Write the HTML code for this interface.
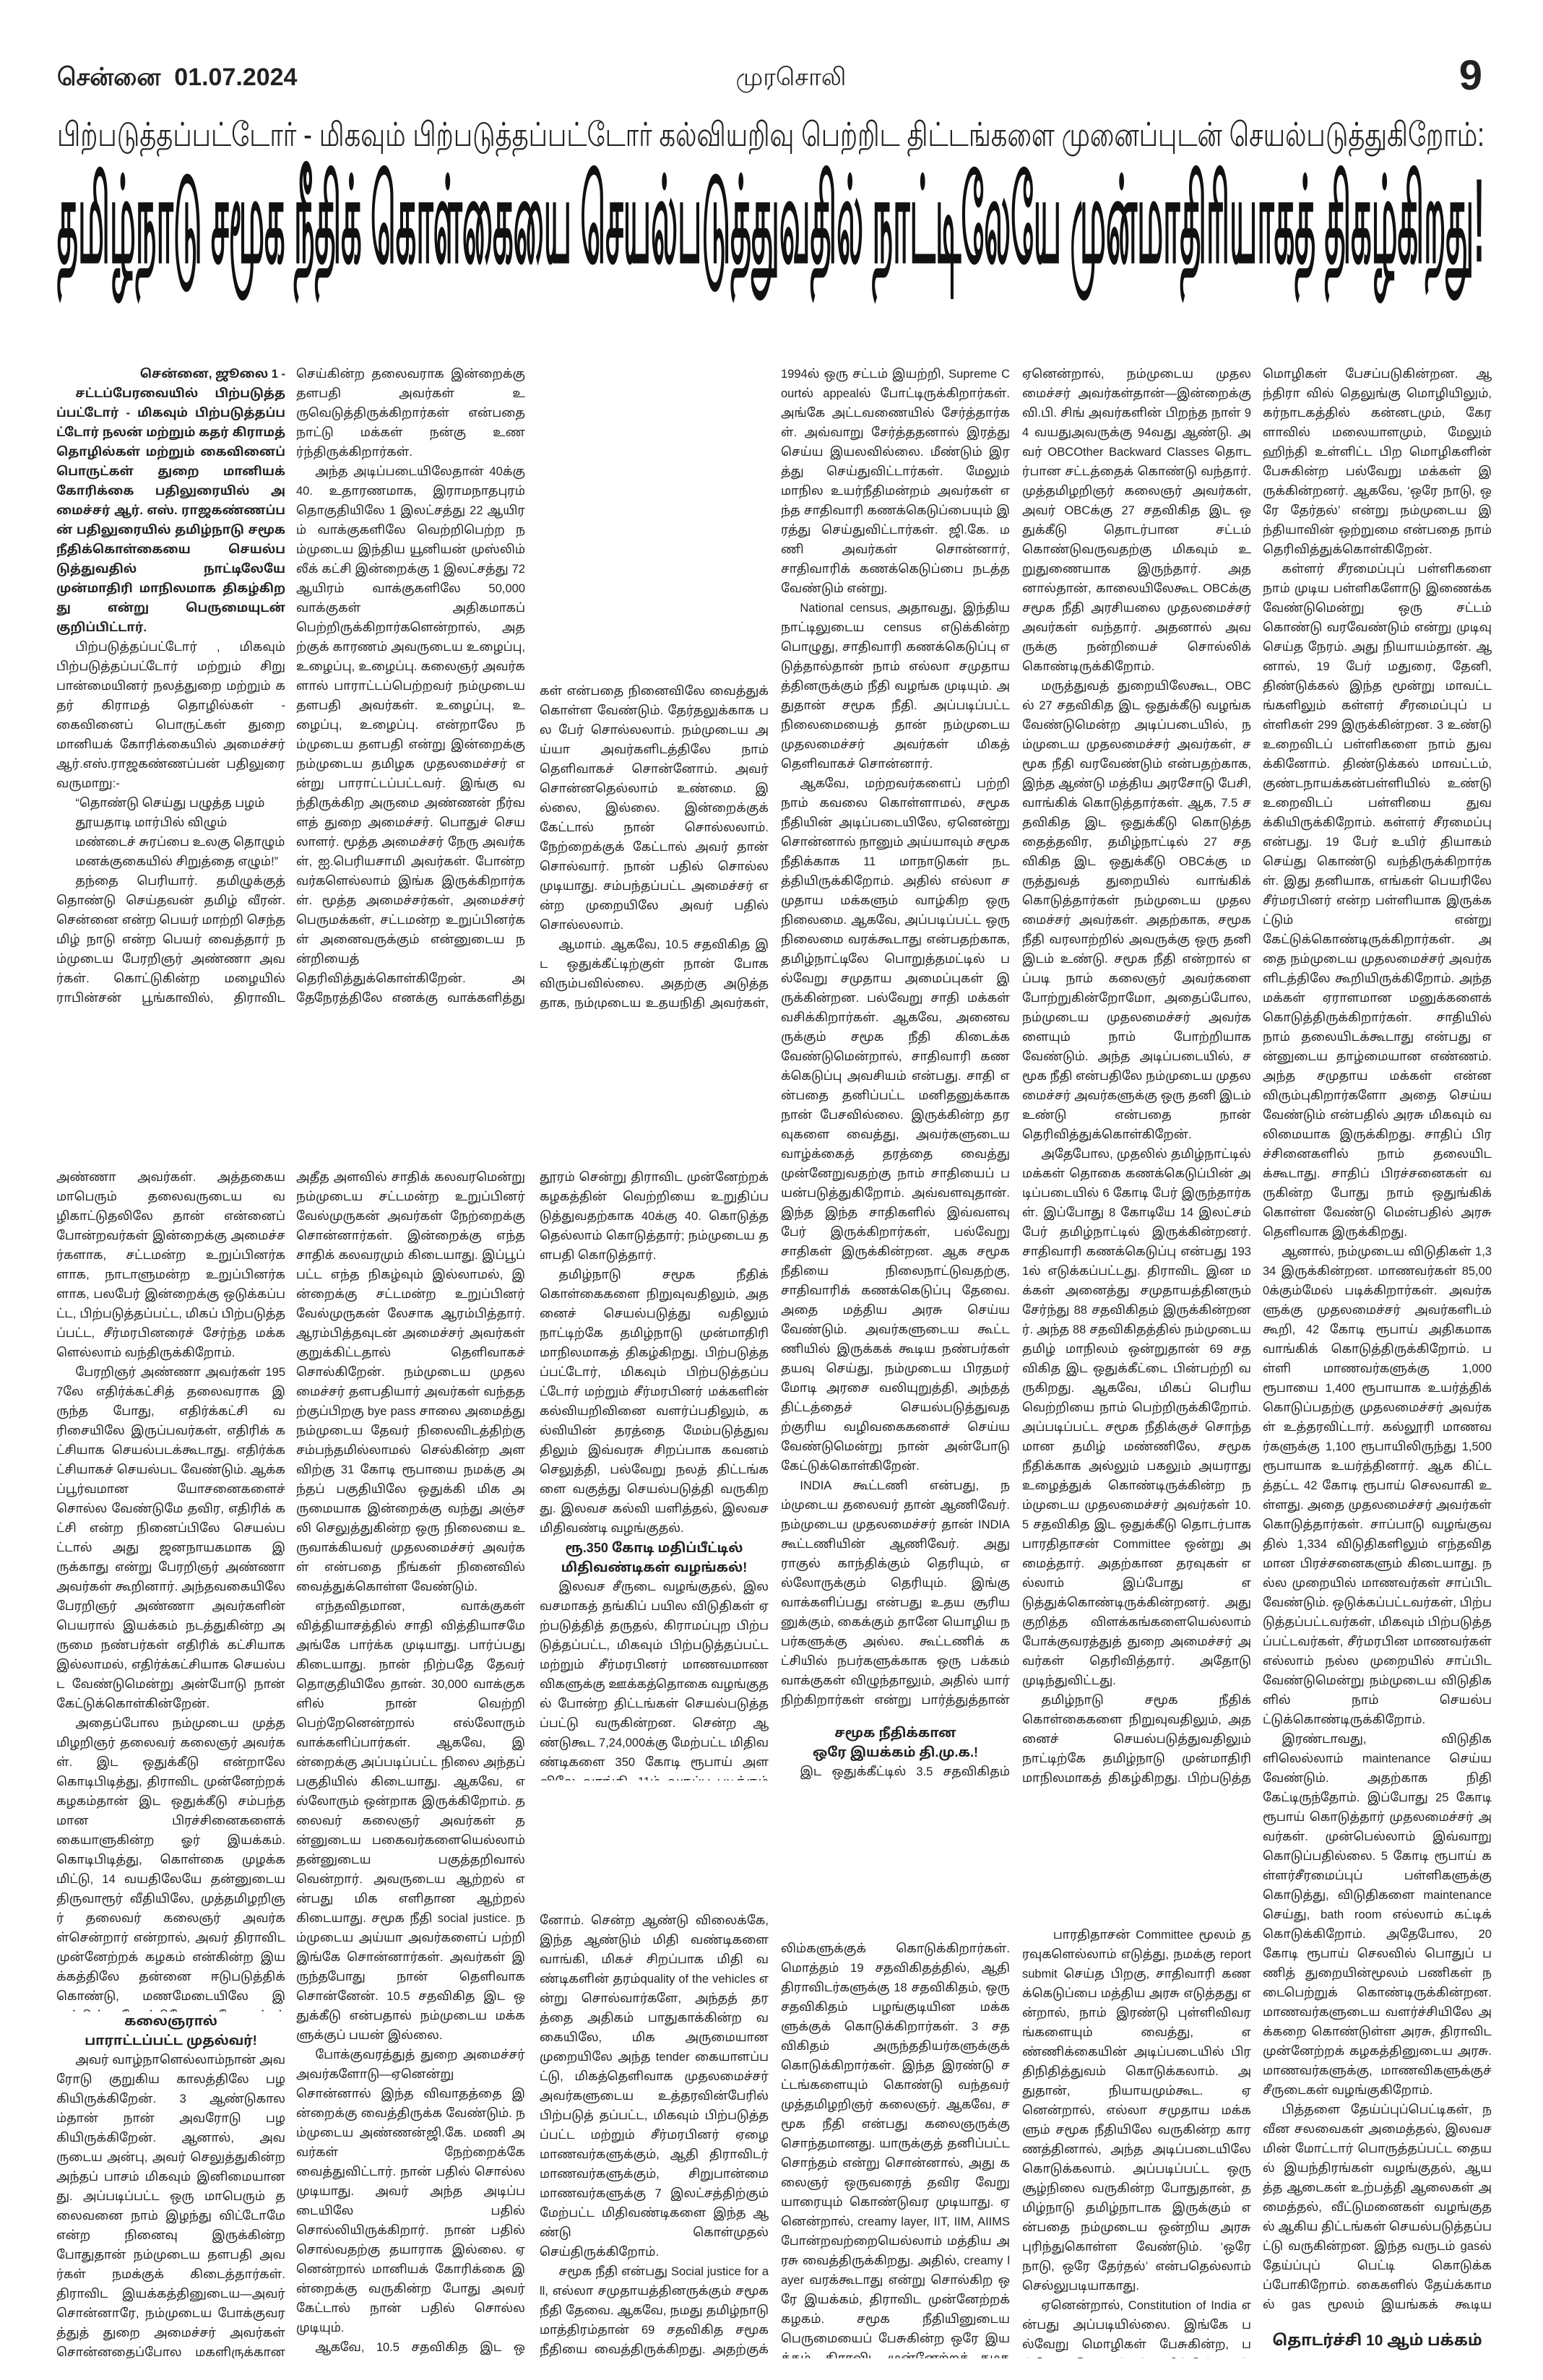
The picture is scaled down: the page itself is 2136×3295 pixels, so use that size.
<!DOCTYPE html>
<html lang="ta">
<head>
<meta charset="utf-8">
<style>
html,body{margin:0;padding:0;background:#fff;}
body{width:2136px;height:3295px;position:relative;overflow:hidden;font-family:"Liberation Sans","Noto Sans Tamil","Lohit Tamil","Noto Sans CJK JP",sans-serif;color:#222;}
.b{position:absolute;width:317px;font-size:16.5px;line-height:27px;text-align:justify;overflow:hidden;word-break:break-all;}
.b p{margin:0;text-indent:1.6em;}
.b p.ni{text-indent:0;}
.lede{font-weight:bold;}
.poem{padding-left:1.6em;text-indent:0 !important;text-align:left;word-break:normal;}
.sh{font-weight:bold;text-align:center;text-indent:0 !important;font-size:18px;word-break:normal;}
.c1{left:78px}.c2{left:410px}.c3{left:747px}.c4{left:1081px}.c5{left:1415px}.c6{left:1748px}
</style>
</head>
<body>
<svg style="position:absolute;left:0;top:0" width="2136" height="440" xmlns="http://www.w3.org/2000/svg">
<text x="79" y="118" font-size="34" font-weight="bold" fill="#222" font-family="Liberation Sans, sans-serif">சென்னை&#160;&#160;01.07.2024</text>
<text x="1095" y="118" font-size="34" text-anchor="middle" fill="#222" font-family="Liberation Sans, sans-serif">முரசொலி</text>
<text x="2052" y="124" font-size="58" font-weight="bold" text-anchor="end" fill="#222" font-family="Liberation Sans, sans-serif">9</text>
<text x="79" y="202" font-size="46" textLength="1976" lengthAdjust="spacingAndGlyphs" fill="#222" font-family="Liberation Sans, sans-serif">பிற்படுத்தப்பட்டோர் - மிகவும் பிற்படுத்தப்பட்டோர் கல்வியறிவு பெற்றிட திட்டங்களை முனைப்புடன் செயல்படுத்துகிறோம்:</text>
<text x="79" y="362" font-size="165" font-weight="bold" textLength="1976" lengthAdjust="spacingAndGlyphs" fill="#111" font-family="Liberation Sans, sans-serif">தமிழ்நாடு சமூக நீதிக் கொள்கையை செயல்படுத்துவதில் நாட்டிலேயே முன்மாதிரியாகத் திகழ்கிறது!</text>
</svg>

<!-- Column 1 top -->
<div class="b c1" style="top:505px;height:892px">
<p class="lede" style="text-align:right;text-indent:0">சென்னை, ஜூலை 1 -</p>
<p class="lede">சட்டப்பேரவையில் பிற்படுத்தப்பட்டோர் - மிகவும் பிற்படுத்தப்பட்டோர் நலன் மற்றும் கதர் கிராமத் தொழில்கள் மற்றும் கைவினைப் பொருட்கள் துறை மானியக் கோரிக்கை பதிலுரையில் அமைச்சர் ஆர். எஸ். ராஜகண்ணப்பன் பதிலுரையில் தமிழ்நாடு சமூக நீதிக்கொள்கையை செயல்படுத்துவதில் நாட்டிலேயே முன்மாதிரி மாநிலமாக திகழ்கிறது என்று பெருமையுடன் குறிப்பிட்டார்.</p>
<p>பிற்படுத்தப்பட்டோர் , மிகவும் பிற்படுத்தப்பட்டோர் மற்றும் சிறு பான்மையினர் நலத்துறை மற்றும் கதர் கிராமத் தொழில்கள் - கைவினைப் பொருட்கள் துறை மானியக் கோரிக்கையில் அமைச்சர் ஆர்.எஸ்.ராஜகண்ணப்பன் பதிலுரை வருமாறு:-</p>
<p class="poem">“தொண்டு செய்து பழுத்த பழம்<br>தூயதாடி மார்பில் விழும்<br>மண்டைச் சுரப்பை உலகு தொழும்<br>மனக்குகையில் சிறுத்தை எழும்!”</p>
<p>தந்தை பெரியார். தமிழுக்குத் தொண்டு செய்தவன் தமிழ் வீரன். சென்னை என்ற பெயர் மாற்றி செந்தமிழ் நாடு என்ற பெயர் வைத்தார் நம்முடைய பேரறிஞர் அண்ணா அவர்கள். கொட்டுகின்ற மழையில் ராபின்சன் பூங்காவில், திராவிட முன்னேற்றக் கழகம் என்னும் இயக்கத்தைத் தொடங்கிய போது, மிட்டாமிராசுகள், பட்டாக்காரர்கள், பெருந்தனக்காரர்கள், ஆலய அதிபர்கள், தொழிலதிபர்கள் இவர்களை எதிர்த்து திராவிட முன்னேற்றக் கழகத்தைத் தொடங்கியவர் பேரறிஞர் அண்ணா அவர்கள். அத்தகைய மாபெரும் தலைவருடைய வழிகாட்டுதலிலே தான் என்னைப் போன்றவர்கள் இன்றைக்கு அமைச்சர்களாக இருக்கிறோம்.</p>
</div>

<!-- Column 2 top -->
<div class="b c2" style="top:505px;height:892px">
<p class="ni">செய்கின்ற தலைவராக இன்றைக்கு தளபதி அவர்கள் உருவெடுத்திருக்கிறார்கள் என்பதை நாட்டு மக்கள் நன்கு உணர்ந்திருக்கிறார்கள்.</p>
<p>அந்த அடிப்படையிலேதான் 40க்கு 40. உதாரணமாக, இராமநாதபுரம் தொகுதியிலே 1 இலட்சத்து 22 ஆயிரம் வாக்குகளிலே வெற்றிபெற்ற நம்முடைய இந்திய யூனியன் முஸ்லிம் லீக் கட்சி இன்றைக்கு 1 இலட்சத்து 72 ஆயிரம் வாக்குகளிலே 50,000 வாக்குகள் அதிகமாகப் பெற்றிருக்கிறார்களென்றால், அதற்குக் காரணம் அவருடைய உழைப்பு, உழைப்பு, உழைப்பு. கலைஞர் அவர்களால் பாராட்டப்பெற்றவர் நம்முடைய தளபதி அவர்கள். உழைப்பு, உழைப்பு, உழைப்பு. என்றாலே நம்முடைய தளபதி என்று இன்றைக்கு நம்முடைய தமிழக முதலமைச்சர் என்று பாராட்டப்பட்டவர். இங்கு வந்திருக்கிற அருமை அண்ணன் நீர்வளத் துறை அமைச்சர். பொதுச் செயலாளர். மூத்த அமைச்சர் நேரு அவர்கள், ஐ.பெரியசாமி அவர்கள். போன்றவர்களெல்லாம் இங்க இருக்கிறார்கள். மூத்த அமைச்சர்கள், அமைச்சர் பெருமக்கள், சட்டமன்ற உறுப்பினர்கள் அனைவருக்கும் என்னுடைய நன்றியைத் தெரிவித்துக்கொள்கிறேன். அதேநேரத்திலே எனக்கு வாக்களித்து பெருவாரியாக வெற்றிபெறச் செய்த முதுகுளத்தூர் தொகுதி மக்களுக்கும் என்னுடைய நன்றியை நான் தெரிவித்துக்கொள்கிறேன்.</p>
<p>நம்முடைய தென் மாவட்டங்களிலே நம்முடைய தளபதி அவர்கள் பல்லாயிரக்கணக்கான மைல் தூரம் சென்று திராவிட முன்னேற்றக் கழகத்தின் வெற்றியை உறுதிப்படுத்துவதற்காக உழைத்தார்.</p>
</div>

<!-- Column 3 top -->
<div class="b c3" style="top:944px;height:453px">
<p class="ni">கள் என்பதை நினைவிலே வைத்துக் கொள்ள வேண்டும். தேர்தலுக்காக பல பேர் சொல்லலாம். நம்முடைய அய்யா அவர்களிடத்திலே நாம் தெளிவாகச் சொன்னோம். அவர் சொன்னதெல்லாம் உண்மை. இல்லை, இல்லை. இன்றைக்குக் கேட்டால் நான் சொல்லலாம். நேற்றைக்குக் கேட்டால் அவர் தான் சொல்வார். நான் பதில் சொல்ல முடியாது. சம்பந்தப்பட்ட அமைச்சர் என்ற முறையிலே அவர் பதில் சொல்லலாம்.</p>
<p>ஆமாம். ஆகவே, 10.5 சதவிகித இட ஒதுக்கீட்டிற்குள் நான் போக விரும்பவில்லை. அதற்கு அடுத்ததாக, நம்முடைய உதயநிதி அவர்கள், இந்தத் தேர்தலிலே மிகச் சிறப்பாக பணியாற்றினார். பல்லாயிரக்கணக்கான மைல் தூரம் சென்று திராவிட முன்னேற்றக் கழகத்தின் வெற்றியை உறுதிப்படுத்தினார்.</p>
</div>

<!-- Column 4 top+mid -->
<div class="b c4" style="top:505px;height:1863px">
<p class="ni">1994ல் ஒரு சட்டம் இயற்றி, Supreme Courtல் appealல் போட்டிருக்கிறார்கள். அங்கே அட்டவணையில் சேர்த்தார்கள். அவ்வாறு சேர்த்ததனால் இரத்து செய்ய இயலவில்லை. மீண்டும் இரத்து செய்துவிட்டார்கள். மேலும் மாநில உயர்நீதிமன்றம் அவர்கள் எந்த சாதிவாரி கணக்கெடுப்பையும் இரத்து செய்துவிட்டார்கள். ஜி.கே. மணி அவர்கள் சொன்னார், சாதிவாரிக் கணக்கெடுப்பை நடத்த வேண்டும் என்று.</p>
<p>National census, அதாவது, இந்திய நாட்டிலுடைய census எடுக்கின்றபொழுது, சாதிவாரி கணக்கெடுப்பு எடுத்தால்தான் நாம் எல்லா சமுதாயத்தினருக்கும் நீதி வழங்க முடியும். அதுதான் சமூக நீதி. அப்படிப்பட்ட நிலைமையைத் தான் நம்முடைய முதலமைச்சர் அவர்கள் மிகத் தெளிவாகச் சொன்னார்.</p>
<p>ஆகவே, மற்றவர்களைப் பற்றி நாம் கவலை கொள்ளாமல், சமூக நீதியின் அடிப்படையிலே, ஏனென்று சொன்னால் நானும் அய்யாவும் சமூக நீதிக்காக 11 மாநாடுகள் நடத்தியிருக்கிறோம். அதில் எல்லா சமுதாய மக்களும் வாழ்கிற ஒரு நிலைமை. ஆகவே, அப்படிப்பட்ட ஒரு நிலைமை வரக்கூடாது என்பதற்காக, தமிழ்நாட்டிலே பொறுத்தமட்டில் பல்வேறு சமுதாய அமைப்புகள் இருக்கின்றன. பல்வேறு சாதி மக்கள் வசிக்கிறார்கள். ஆகவே, அனைவருக்கும் சமூக நீதி கிடைக்க வேண்டுமென்றால், சாதிவாரி கணக்கெடுப்பு அவசியம் என்பது. சாதி என்பதை தனிப்பட்ட மனிதனுக்காக நான் பேசவில்லை. இருக்கின்ற தரவுகளை வைத்து, அவர்களுடைய வாழ்க்கைத் தரத்தை வைத்து முன்னேறுவதற்கு நாம் சாதியைப் பயன்படுத்துகிறோம். அவ்வளவுதான். இந்த இந்த சாதிகளில் இவ்வளவு பேர் இருக்கிறார்கள், பல்வேறு சாதிகள் இருக்கின்றன. ஆக சமூக நீதியை நிலைநாட்டுவதற்கு, சாதிவாரிக் கணக்கெடுப்பு தேவை. அதை மத்திய அரசு செய்ய வேண்டும். அவர்களுடைய கூட்டணியில் இருக்கக் கூடிய நண்பர்கள் தயவு செய்து, நம்முடைய பிரதமர் மோடி அரசை வலியுறுத்தி, அந்தத் திட்டத்தைச் செயல்படுத்துவதற்குரிய வழிவகைகளைச் செய்யவேண்டுமென்று நான் அன்போடு கேட்டுக்கொள்கிறேன்.</p>
<p>INDIA கூட்டணி என்பது, நம்முடைய தலைவர் தான் ஆணிவேர். நம்முடைய முதலமைச்சர் தான் INDIA கூட்டணியின் ஆணிவேர். அது ராகுல் காந்திக்கும் தெரியும், எல்லோருக்கும் தெரியும். இங்கு வாக்களிப்பது என்பது உதய சூரியனுக்கும், கைக்கும் தானே யொழிய நபர்களுக்கு அல்ல. கூட்டணிக் கட்சியில் நபர்களுக்காக ஒரு பக்கம் வாக்குகள் விழுந்தாலும், அதில் யார் நிற்கிறார்கள் என்று பார்த்துத்தான் வாக்களிப்பார்களே தவிர, மக்கள் ஏதோ தனக்காக வாக்களிப்பதாக யாரும் நினைக்க வேண்டாம் என்று அன்போடு நான் கேட்டுக்கொள்கிறேன். 50 சதவிகிதத்தில் 20 சதவிகிதம் போக 30 சதவிகிதம். அதில் இஸ்லாமியர்களுக்கு 3.5 சதவிகிதம்.</p>
</div>
<div class="b c4" style="top:2386px;height:85px">
<p class="sh">சமூக நீதிக்கான<br>ஒரே இயக்கம் தி.மு.க.!</p>
<p>இட ஒதுக்கீட்டில் 3.5 சதவிகிதம் முஸ்</p>
</div>

<!-- Column 5 top+mid -->
<div class="b c5" style="top:505px;height:1972px">
<p class="ni">ஏனென்றால், நம்முடைய முதலமைச்சர் அவர்கள்தான்—இன்றைக்கு வி.பி. சிங் அவர்களின் பிறந்த நாள் 94 வயதுஅவருக்கு 94வது ஆண்டு. அவர் OBCOther Backward Classes தொடர்பான சட்டத்தைக் கொண்டு வந்தார். முத்தமிழறிஞர் கலைஞர் அவர்கள், அவர் OBCக்கு 27 சதவிகித இட ஒதுக்கீடு தொடர்பான சட்டம் கொண்டுவருவதற்கு மிகவும் உறுதுணையாக இருந்தார். அதனால்தான், காலையிலேகூட OBCக்கு சமூக நீதி அரசியலை முதலமைச்சர் அவர்கள் வந்தார். அதனால் அவருக்கு நன்றியைச் சொல்லிக் கொண்டிருக்கிறோம்.</p>
<p>மருத்துவத் துறையிலேகூட, OBCல் 27 சதவிகித இட ஒதுக்கீடு வழங்க வேண்டுமென்ற அடிப்படையில், நம்முடைய முதலமைச்சர் அவர்கள், சமூக நீதி வரவேண்டும் என்பதற்காக, இந்த ஆண்டு மத்திய அரசோடு பேசி, வாங்கிக் கொடுத்தார்கள். ஆக, 7.5 சதவிகித இட ஒதுக்கீடு கொடுத்ததைத்தவிர, தமிழ்நாட்டில் 27 சதவிகித இட ஒதுக்கீடு OBCக்கு மருத்துவத் துறையில் வாங்கிக் கொடுத்தார்கள் நம்முடைய முதலமைச்சர் அவர்கள். அதற்காக, சமூக நீதி வரலாற்றில் அவருக்கு ஒரு தனி இடம் உண்டு. சமூக நீதி என்றால் எப்படி நாம் கலைஞர் அவர்களை போற்றுகின்றோமோ, அதைப்போல, நம்முடைய முதலமைச்சர் அவர்களையும் நாம் போற்றியாக வேண்டும். அந்த அடிப்படையில், சமூக நீதி என்பதிலே நம்முடைய முதலமைச்சர் அவர்களுக்கு ஒரு தனி இடம் உண்டு என்பதை நான் தெரிவித்துக்கொள்கிறேன்.</p>
<p>அதேபோல, முதலில் தமிழ்நாட்டில் மக்கள் தொகை கணக்கெடுப்பின் அடிப்படையில் 6 கோடி பேர் இருந்தார்கள். இப்போது 8 கோடியே 14 இலட்சம் பேர் தமிழ்நாட்டில் இருக்கின்றனர். சாதிவாரி கணக்கெடுப்பு என்பது 1931ல் எடுக்கப்பட்டது. திராவிட இன மக்கள் அனைத்து சமுதாயத்தினரும் சேர்ந்து 88 சதவிகிதம் இருக்கின்றனர். அந்த 88 சதவிகிதத்தில் நம்முடைய தமிழ் மாநிலம் ஒன்றுதான் 69 சதவிகித இட ஒதுக்கீட்டை பின்பற்றி வருகிறது. ஆகவே, மிகப் பெரிய வெற்றியை நாம் பெற்றிருக்கிறோம். அப்படிப்பட்ட சமூக நீதிக்குச் சொந்தமான தமிழ் மண்ணிலே, சமூக நீதிக்காக அல்லும் பகலும் அயராது உழைத்துக் கொண்டிருக்கின்ற நம்முடைய முதலமைச்சர் அவர்கள் 10.5 சதவிகித இட ஒதுக்கீடு தொடர்பாக பாரதிதாசன் Committee ஒன்று அமைத்தார். அதற்கான தரவுகள் எல்லாம் இப்போது எடுத்துக்கொண்டிருக்கின்றனர். அது குறித்த விளக்கங்களையெல்லாம் போக்குவரத்துத் துறை அமைச்சர் அவர்கள் தெரிவித்தார். அதோடு முடிந்துவிட்டது.</p>
<p>தமிழ்நாடு சமூக நீதிக் கொள்கைகளை நிறுவுவதிலும், அதனைச் செயல்படுத்துவதிலும் நாட்டிற்கே தமிழ்நாடு முன்மாதிரி மாநிலமாகத் திகழ்கிறது. பிற்படுத்தப்பட்டோர், மிகவும் பிற்படுத்தப்பட்டோர் மற்றும் சீர்மரபினர் மக்களின் கல்வியறிவினை வளர்ப்பதிலும் இவ்வரசு சிறப்பாக கவனம் செலுத்தி வருகிறது.</p>
</div>

<!-- Column 6 full -->
<div class="b c6" style="top:505px;height:2700px">
<p class="ni">மொழிகள் பேசப்படுகின்றன. ஆந்திரா வில் தெலுங்கு மொழியிலும், கர்நாடகத்தில் கன்னடமும், கேரளாவில் மலையாளமும், மேலும் ஹிந்தி உள்ளிட்ட பிற மொழிகளின் பேசுகின்ற பல்வேறு மக்கள் இருக்கின்றனர். ஆகவே, ‘ஒரே நாடு, ஒரே தேர்தல்’ என்று நம்முடைய இந்தியாவின் ஒற்றுமை என்பதை நாம் தெரிவித்துக்கொள்கிறேன்.</p>
<p>கள்ளர் சீரமைப்புப் பள்ளிகளை நாம் முடிய பள்ளிகளோடு இணைக்க வேண்டுமென்று ஒரு சட்டம் கொண்டு வரவேண்டும் என்று முடிவு செய்த நேரம். அது நியாயம்தான். ஆனால், 19 பேர் மதுரை, தேனி, திண்டுக்கல் இந்த மூன்று மாவட்டங்களிலும் கள்ளர் சீரமைப்புப் பள்ளிகள் 299 இருக்கின்றன. 3 உண்டு உறைவிடப் பள்ளிகளை நாம் துவக்கினோம். திண்டுக்கல் மாவட்டம், குண்டநாயக்கன்பள்ளியில் உண்டு உறைவிடப் பள்ளியை துவக்கியிருக்கிறோம். கள்ளர் சீரமைப்பு என்பது. 19 பேர் உயிர் தியாகம் செய்து கொண்டு வந்திருக்கிறார்கள். இது தனியாக, எங்கள் பெயரிலே சீர்மரபினர் என்ற பள்ளியாக இருக்கட்டும் என்று கேட்டுக்கொண்டிருக்கிறார்கள். அதை நம்முடைய முதலமைச்சர் அவர்களிடத்திலே கூறியிருக்கிறோம். அந்த மக்கள் ஏராளமான மனுக்களைக் கொடுத்திருக்கிறார்கள். சாதியில் நாம் தலையிடக்கூடாது என்பது என்னுடைய தாழ்மையான எண்ணம். அந்த சமுதாய மக்கள் என்ன விரும்புகிறார்களோ அதை செய்ய வேண்டும் என்பதில் அரசு மிகவும் வலிமையாக இருக்கிறது. சாதிப் பிரச்சினைகளில் நாம் தலையிடக்கூடாது. சாதிப் பிரச்சனைகள் வருகின்ற போது நாம் ஒதுங்கிக் கொள்ள வேண்டு மென்பதில் அரசு தெளிவாக இருக்கிறது.</p>
<p>ஆனால், நம்முடைய விடுதிகள் 1,334 இருக்கின்றன. மாணவர்கள் 85,000க்கும்மேல் படிக்கிறார்கள். அவர்களுக்கு முதலமைச்சர் அவர்களிடம் கூறி, 42 கோடி ரூபாய் அதிகமாக வாங்கிக் கொடுத்திருக்கிறோம். பள்ளி மாணவர்களுக்கு 1,000 ரூபாயை 1,400 ரூபாயாக உயர்த்திக் கொடுப்பதற்கு முதலமைச்சர் அவர்கள் உத்தரவிட்டார். கல்லூரி மாணவர்களுக்கு 1,100 ரூபாயிலிருந்து 1,500 ரூபாயாக உயர்த்தினார். ஆக கிட்டத்தட்ட 42 கோடி ரூபாய் செலவாகி உள்ளது. அதை முதலமைச்சர் அவர்கள் கொடுத்தார்கள். சாப்பாடு வழங்குவதில் 1,334 விடுதிகளிலும் எந்தவிதமான பிரச்சனைகளும் கிடையாது. நல்ல முறையில் மாணவர்கள் சாப்பிட வேண்டும். ஒடுக்கப்பட்டவர்கள், பிற்படுத்தப்பட்டவர்கள், மிகவும் பிற்படுத்தப்பட்டவர்கள், சீர்மரபின மாணவர்கள் எல்லாம் நல்ல முறையில் சாப்பிட வேண்டுமென்று நம்முடைய விடுதிகளில் நாம் செயல்பட்டுக்கொண்டிருக்கிறோம்.</p>
<p>இரண்டாவது, விடுதிகளிலெல்லாம் maintenance செய்ய வேண்டும். அதற்காக நிதி கேட்டிருந்தோம். இப்போது 25 கோடி ரூபாய் கொடுத்தார் முதலமைச்சர் அவர்கள். முன்பெல்லாம் இவ்வாறு கொடுப்பதில்லை. 5 கோடி ரூபாய் கள்ளர்சீரமைப்புப் பள்ளிகளுக்கு கொடுத்து, விடுதிகளை maintenance செய்து, bath room எல்லாம் கட்டிக் கொடுக்கிறோம். அதேபோல, 20 கோடி ரூபாய் செலவில் பொதுப் பணித் துறையின்மூலம் பணிகள் நடைபெற்றுக் கொண்டிருக்கின்றன. மாணவர்களுடைய வளர்ச்சியிலே அக்கறை கொண்டுள்ள அரசு, திராவிட முன்னேற்றக் கழகத்தினுடைய அரசு. மாணவர்களுக்கு, மாணவிகளுக்குச் சீருடைகள் வழங்குகிறோம்.</p>
<p>பித்தளை தேய்ப்புப்பெட்டிகள், நவீன சலவைகள் அமைத்தல், இலவச மின் மோட்டார் பொருத்தப்பட்ட தையல் இயந்திரங்கள் வழங்குதல், ஆயத்த ஆடைகள் உற்பத்தி ஆலைகள் அமைத்தல், வீட்டுமனைகள் வழங்குதல் ஆகிய திட்டங்கள் செயல்படுத்தப்பட்டு வருகின்றன. இந்த வருடம் gasல் தேய்ப்புப் பெட்டி கொடுக்கப்போகிறோம். கைகளில் தேய்க்காமல் gas மூலம் இயங்கக் கூடிய தேய்ப்புப் பெட்டி இந்த ஆண்டு கொடுக்கப்போகிறோம். கிட்டத்தட்ட 16,842 பயனாளிகளுக்கு TABCEDOல் 115 கோடி ரூபாய் கடன் கொடுக்கிறோம். சீர்மரபினர்கள் வாரியம் வைத்திருக்கிறோம். அதில் 38,491 பேர் உறுப்பினர்களாக இருக்கிறார்கள். சீர்மரபினர்கள் வாரியத்தில் மட்டும் 327 பயனாளிகளுக்கு 29 இலட்சம் உதவிகள் வழங்கப்பட்டிருக்கிறது.</p>
</div>
<div style="position:absolute;left:1748px;top:3226px;width:317px;text-align:center;font-weight:bold;font-size:21px;line-height:30px;">தொடர்ச்சி 10 ஆம் பக்கம்</div>

<!-- Column 1 lower -->
<div class="b c1" style="top:1617px;height:1168px">
<p class="ni">அண்ணா அவர்கள். அத்தகைய மாபெரும் தலைவருடைய வழிகாட்டுதலிலே தான் என்னைப் போன்றவர்கள் இன்றைக்கு அமைச்சர்களாக, சட்டமன்ற உறுப்பினர்களாக, நாடாளுமன்ற உறுப்பினர்களாக, பலபேர் இன்றைக்கு ஒடுக்கப்பட்ட, பிற்படுத்தப்பட்ட, மிகப் பிற்படுத்தப்பட்ட, சீர்மரபினரைச் சேர்ந்த மக்களெல்லாம் வந்திருக்கிறோம்.</p>
<p>பேரறிஞர் அண்ணா அவர்கள் 1957லே எதிர்க்கட்சித் தலைவராக இருந்த போது, எதிர்க்கட்சி வரிசையிலே இருப்பவர்கள், எதிரிக் கட்சியாக செயல்படக்கூடாது. எதிர்க்கட்சியாகச் செயல்பட வேண்டும். ஆக்கப்பூர்வமான யோசனைகளைச் சொல்ல வேண்டுமே தவிர, எதிரிக் கட்சி என்ற நினைப்பிலே செயல்பட்டால் அது ஜனநாயகமாக இருக்காது என்று பேரறிஞர் அண்ணா அவர்கள் கூறினார். அந்தவகையிலே பேரறிஞர் அண்ணா அவர்களின் பெயரால் இயக்கம் நடத்துகின்ற அருமை நண்பர்கள் எதிரிக் கட்சியாக இல்லாமல், எதிர்க்கட்சியாக செயல்பட வேண்டுமென்று அன்போடு நான் கேட்டுக்கொள்கின்றேன்.</p>
<p>அதைப்போல நம்முடைய முத்தமிழறிஞர் தலைவர் கலைஞர் அவர்கள். இட ஒதுக்கீடு என்றாலே கொடிபிடித்து, திராவிட முன்னேற்றக் கழகம்தான் இட ஒதுக்கீடு சம்பந்தமான பிரச்சினைகளைக் கையாளுகின்ற ஓர் இயக்கம். கொடிபிடித்து, கொள்கை முழக்கமிட்டு, 14 வயதிலேயே தன்னுடைய திருவாரூர் வீதியிலே, முத்தமிழறிஞர் தலைவர் கலைஞர் அவர்கள்சென்றார் என்றால், அவர் திராவிட முன்னேற்றக் கழகம் என்கின்ற இயக்கத்திலே தன்னை ஈடுபடுத்திக் கொண்டு, மணமேடையிலே இருக்கின்ற நேரத்திலேகூட போராட்டம் என்ற உணர்வோடு அன்றைக்கு இந்தச் சமூக நீதிக்காகப் பாடுபட்டார் என்பதை யாரும் மறுக்கமுடியாது. அந்த உணர்வோடுதான் இன்றைக்கு நாம் பணியாற்றிக் கொண்டிருக்கிறோம்.</p>
</div>
<div class="b c1" style="top:2785px;height:480px">
<p class="sh">கலைஞரால்<br>பாராட்டப்பட்ட முதல்வர்!</p>
<p>அவர் வாழ்நாளெல்லாம்நான் அவரோடு குறுகிய காலத்திலே பழகியிருக்கிறேன். 3 ஆண்டுகாலம்தான் நான் அவரோடு பழகியிருக்கிறேன். ஆனால், அவருடைய அன்பு, அவர் செலுத்துகின்ற அந்தப் பாசம் மிகவும் இனிமையானது. அப்படிப்பட்ட ஒரு மாபெரும் தலைவனை நாம் இழந்து விட்டோமே என்ற நினைவு இருக்கின்றபோதுதான் நம்முடைய தளபதி அவர்கள் நமக்குக் கிடைத்தார்கள். திராவிட இயக்கத்தினுடைய—அவர் சொன்னாரே, நம்முடைய போக்குவரத்துத் துறை அமைச்சர் அவர்கள் சொன்னதைப்போல மகளிருக்கான திட்டங்களையும் சொன்னதையும் செய்தார்; சொல்லாததையும் செய்தார்.</p>
</div>

<!-- Column 2 lower -->
<div class="b c2" style="top:1617px;height:1648px">
<p class="ni">அதீத அளவில் சாதிக் கலவரமென்று நம்முடைய சட்டமன்ற உறுப்பினர் வேல்முருகன் அவர்கள் நேற்றைக்கு சொன்னார்கள். இன்றைக்கு எந்த சாதிக் கலவரமும் கிடையாது. இப்பூப் பட்ட எந்த நிகழ்வும் இல்லாமல், இன்றைக்கு சட்டமன்ற உறுப்பினர் வேல்முருகன் லேசாக ஆரம்பித்தார். ஆரம்பித்தவுடன் அமைச்சர் அவர்கள் குறுக்கிட்டதால் தெளிவாகச் சொல்கிறேன். நம்முடைய முதலமைச்சர் தளபதியார் அவர்கள் வந்ததற்குப்பிறகு bye pass சாலை அமைத்து நம்முடைய தேவர் நிலைவிடத்திற்கு சம்பந்தமில்லாமல் செல்கின்ற அளவிற்கு 31 கோடி ரூபாயை நமக்கு அந்தப் பகுதியிலே ஒதுக்கி மிக அருமையாக இன்றைக்கு வந்து அஞ்சலி செலுத்துகின்ற ஒரு நிலையை உருவாக்கியவர் முதலமைச்சர் அவர்கள் என்பதை நீங்கள் நினைவில் வைத்துக்கொள்ள வேண்டும்.</p>
<p>எந்தவிதமான, வாக்குகள் வித்தியாசத்தில் சாதி வித்தியாசமே அங்கே பார்க்க முடியாது. பார்ப்பது கிடையாது. நான் நிற்பதே தேவர் தொகுதியிலே தான். 30,000 வாக்குகளில் நான் வெற்றி பெற்றேனென்றால் எல்லோரும் வாக்களிப்பார்கள். ஆகவே, இன்றைக்கு அப்படிப்பட்ட நிலை அந்தப் பகுதியில் கிடையாது. ஆகவே, எல்லோரும் ஒன்றாக இருக்கிறோம். தலைவர் கலைஞர் அவர்கள் தன்னுடைய பகைவர்களையெல்லாம் தன்னுடைய பகுத்தறிவால் வென்றார். அவருடைய ஆற்றல் என்பது மிக எளிதான ஆற்றல் கிடையாது. சமூக நீதி social justice. நம்முடைய அய்யா அவர்களைப் பற்றி இங்கே சொன்னார்கள். அவர்கள் இருந்தபோது நான் தெளிவாக சொன்னேன். 10.5 சதவிகித இட ஒதுக்கீடு என்பதால் நம்முடைய மக்களுக்குப் பயன் இல்லை.</p>
<p>போக்குவரத்துத் துறை அமைச்சர் அவர்களோடு—ஏனென்று சொன்னால் இந்த விவாதத்தை இன்றைக்கு வைத்திருக்க வேண்டும். நம்முடைய அண்ணன்ஜி.கே. மணி அவர்கள் நேற்றைக்கே வைத்துவிட்டார். நான் பதில் சொல்ல முடியாது. அவர் அந்த அடிப்படையிலே பதில் சொல்லியிருக்கிறார். நான் பதில் சொல்வதற்கு தயாராக இல்லை. ஏனென்றால் மானியக் கோரிக்கை இன்றைக்கு வருகின்ற போது அவர் கேட்டால் நான் பதில் சொல்ல முடியும்.</p>
<p>ஆகவே, 10.5 சதவிகித இட ஒதுக்கீடு என்பது வன்னியர் மக்களுக்கு எதிரானது அல்ல. கலைஞர் அவர்கள்தான் 50 சதவிகிதத்திலே 20 சதவிகிதம் அந்த மக்களுக்கு ஒதுக்கித் தந்த மாபெரும் தலைவர் நம்முடைய கலைஞர் அவர்கள். அந்த வரலாற்றை யாரும் மறந்துவிடக் கூடாது என்பதை இந்த அவையிலே தெரிவித்துக் கொள்கிறேன். சமூக நீதி என்பது எல்லோருக்கும் பொதுவானது என்பதை நாம் உணர்ந்திருக்கிறோம்.</p>
</div>

<!-- Column 3 lower -->
<div class="b c3" style="top:1617px;height:848px">
<p class="ni">தூரம் சென்று திராவிட முன்னேற்றக் கழகத்தின் வெற்றியை உறுதிப்படுத்துவதற்காக 40க்கு 40. கொடுத்ததெல்லாம் கொடுத்தார்; நம்முடைய தளபதி கொடுத்தார்.</p>
<p>தமிழ்நாடு சமூக நீதிக் கொள்கைகளை நிறுவுவதிலும், அதனைச் செயல்படுத்து வதிலும் நாட்டிற்கே தமிழ்நாடு முன்மாதிரி மாநிலமாகத் திகழ்கிறது. பிற்படுத்தப்பட்டோர், மிகவும் பிற்படுத்தப்பட்டோர் மற்றும் சீர்மரபினர் மக்களின் கல்வியறிவினை வளர்ப்பதிலும், கல்வியின் தரத்தை மேம்படுத்துவதிலும் இவ்வரசு சிறப்பாக கவனம் செலுத்தி, பல்வேறு நலத் திட்டங்களை வகுத்து செயல்படுத்தி வருகிறது. இலவச கல்வி யளித்தல், இலவச மிதிவண்டி வழங்குதல்.</p>
<p class="sh">ரூ.350 கோடி மதிப்பீட்டில்<br>மிதிவண்டிகள் வழங்கல்!</p>
<p>இலவச சீருடை வழங்குதல், இலவசமாகத் தங்கிப் பயில விடுதிகள் ஏற்படுத்தித் தருதல், கிராமப்புற பிற்படுத்தப்பட்ட, மிகவும் பிற்படுத்தப்பட்ட மற்றும் சீர்மரபினர் மாணவமாணவிகளுக்கு ஊக்கத்தொகை வழங்குதல் போன்ற திட்டங்கள் செயல்படுத்தப்பட்டு வருகின்றன. சென்ற ஆண்டுகூட 7,24,000க்கு மேற்பட்ட மிதிவண்டிகளை 350 கோடி ரூபாய் அளவிலே வாங்கி, 11ம் வகுப்பு படிக்கும் மாணவ மாணவியர்களுக்கு வழங்கி மகிழ்ந்தோம். அதன் மூலம் பல லட்சம் மாணவர்கள் பயன் பெற்றிருக்கிறார்கள்.</p>
</div>
<div class="b c3" style="top:2646px;height:619px">
<p class="ni">னோம். சென்ற ஆண்டு விலைக்கே, இந்த ஆண்டும் மிதி வண்டிகளை வாங்கி, மிகச் சிறப்பாக மிதி வண்டிகளின் தரம்quality of the vehicles என்று சொல்வார்களே, அந்தத் தரத்தை அதிகம் பாதுகாக்கின்ற வகையிலே, மிக அருமையான முறையிலே அந்த tender கையாளப்பட்டு, மிகத்தெளிவாக முதலமைச்சர் அவர்களுடைய உத்தரவின்பேரில் பிற்படுத் தப்பட்ட, மிகவும் பிற்படுத்தப்பட்ட மற்றும் சீர்மரபினர் ஏழை மாணவர்களுக்கும், ஆதி திராவிடர் மாணவர்களுக்கும், சிறுபான்மை மாணவர்களுக்கு 7 இலட்சத்திற்கும் மேற்பட்ட மிதிவண்டிகளை இந்த ஆண்டு கொள்முதல் செய்திருக்கிறோம்.</p>
<p>சமூக நீதி என்பது Social justice for all, எல்லா சமுதாயத்தினருக்கும் சமூக நீதி தேவை. ஆகவே, நமது தமிழ்நாடு மாத்திரம்தான் 69 சதவிகித சமூக நீதியை வைத்திருக்கிறது. அதற்குக் காரணம் என்னவென்றால் Section 45படி அட்டவணையில் சேர்க்கப்பட்டிருக்கிறது என்பதுதான்.</p>
</div>

<!-- Column 4 bottom -->
<div class="b c4" style="top:2685px;height:580px">
<p class="ni">லிம்களுக்குக் கொடுக்கிறார்கள். மொத்தம் 19 சதவிகிதத்தில், ஆதி திராவிடர்களுக்கு 18 சதவிகிதம், ஒரு சதவிகிதம் பழங்குடியின மக்களுக்குக் கொடுக்கிறார்கள். 3 சதவிகிதம் அருந்ததியர்களுக்குக் கொடுக்கிறார்கள். இந்த இரண்டு சட்டங்களையும் கொண்டு வந்தவர் முத்தமிழறிஞர் கலைஞர். ஆகவே, சமூக நீதி என்பது கலைஞருக்கு சொந்தமானது. யாருக்குத் தனிப்பட்ட சொந்தம் என்று சொன்னால், அது கலைஞர் ஒருவரைத் தவிர வேறு யாரையும் கொண்டுவர முடியாது. ஏனென்றால், creamy layer, IIT, IIM, AIIMS போன்றவற்றையெல்லாம் மத்திய அரசு வைத்திருக்கிறது. அதில், creamy layer வரக்கூடாது என்று சொல்கிற ஒரே இயக்கம், திராவிட முன்னேற்றக் கழகம். சமூக நீதியினுடைய பெருமையைப் பேசுகின்ற ஒரே இயக்கம், திராவிட முன்னேற்றக் கழகம்தான்.</p>
</div>

<!-- Column 5 bottom -->
<div class="b c5" style="top:2666px;height:599px">
<p style="text-indent:2.6em">பாரதிதாசன் Committee மூலம் தரவுகளெல்லாம் எடுத்து, நமக்கு report submit செய்த பிறகு, சாதிவாரி கணக்கெடுப்பை மத்திய அரசு எடுத்தது என்றால், நாம் இரண்டு புள்ளிவிவரங்களையும் வைத்து, எண்ணிக்கையின் அடிப்படையில் பிரதிநிதித்துவம் கொடுக்கலாம். அதுதான், நியாயமும்கூட. ஏனென்றால், எல்லா சமுதாய மக்களும் சமூக நீதியிலே வருகின்ற காரணத்தினால், அந்த அடிப்படையிலே கொடுக்கலாம். அப்படிப்பட்ட ஒரு சூழ்நிலை வருகின்ற போதுதான், தமிழ்நாடு தமிழ்நாடாக இருக்கும் என்பதை நம்முடைய ஒன்றிய அரசு புரிந்துகொள்ள வேண்டும். ‘ஒரே நாடு, ஒரே தேர்தல்’ என்பதெல்லாம் செல்லுபடியாகாது.</p>
<p>ஏனென்றால், Constitution of India என்பது அப்படியில்லை. இங்கே பல்வேறு மொழிகள் பேசுகின்ற, பல்வேறு இன மக்கள் வசிக்கின்றனர். பல்வேறு மாநிலங்கள் உள்ளன. பல்வேறு கலாச்சாரங்கள் இருக்கின்றன.</p>
</div>
</body>
</html>
